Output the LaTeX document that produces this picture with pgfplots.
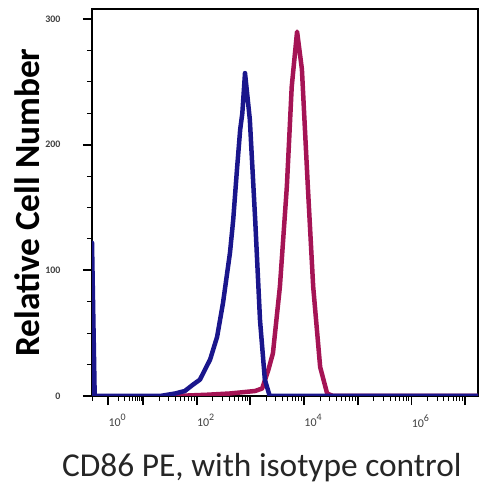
\documentclass[border=0pt]{standalone}
\usepackage{fontspec}
\setmainfont{Carlito}
\usepackage{pgfplots}
\pgfplotsset{compat=1.18}
\definecolor{cblue}{RGB}{26,22,140}
\definecolor{cred}{RGB}{165,20,85}
\newcommand{\dec}[1]{10\raisebox{0.5em}{\fontsize{10}{11}\selectfont #1}}
\begin{document}
\begin{tikzpicture}
\path (0bp,0bp) rectangle (481bp,493bp);
\begin{axis}[
  at={(92bp,97bp)}, anchor=south west,
  scale only axis, width=386bp, height=387bp,
  xmin=0.05, xmax=7.24, ymin=0, ymax=308,
  /pgf/number format/assume math mode=true,
  axis line style={black, line width=1.4bp},
  tick align=outside, xtick pos=bottom, ytick pos=left,
  xtick={0.35,1,2,3,4,5,6,7},
  xticklabels={\dec{0},,\dec{2},,\dec{4},,\dec{6},},
  minor xtick={0.05,0.546,0.660,0.741,0.804,0.856,0.899,0.937,0.970,
    1.301,1.477,1.602,1.699,1.778,1.845,1.903,1.954,
    2.301,2.477,2.602,2.699,2.778,2.845,2.903,2.954,
    3.301,3.477,3.602,3.699,3.778,3.845,3.903,3.954,
    4.301,4.477,4.602,4.699,4.778,4.845,4.903,4.954,
    5.301,5.477,5.602,5.699,5.778,5.845,5.903,5.954,
    6.301,6.477,6.602,6.699,6.778,6.845,6.903,6.954},
  ytick={0,100,200,300},
  minor ytick={25,50,75,125,150,175,225,250,275},
  major tick length=9bp, minor tick length=5bp,
  every major tick/.append style={black, line width=1.8bp},
  every minor tick/.append style={black, line width=1bp},
  xticklabel style={font=\fontsize{12}{13}\selectfont, text=black!75, xshift=9bp, yshift=-6bp},
  yticklabel style={font=\fontsize{10}{11}\selectfont\bfseries, text=black!75, xshift=-19bp},
  xlabel={CD86 PE, with isotype control},
  xlabel style={at={(axis description cs:0.440,-0.186)}, anchor=center, font=\fontsize{33.5}{38}\selectfont, text=black!85},
  ylabel={Relative Cell Number},
  ylabel style={at={(axis description cs:-0.167,0.5)}, anchor=center, font=\fontsize{35.5}{40}\selectfont\bfseries, text=black},
]
\addplot[cred, line width=4.5bp, line join=round] coordinates {
(1.60,0) (2.20,1) (2.62,2) (3.09,4) (3.22,6) (3.33,20) (3.42,34) (3.55,87)
(3.68,167) (3.77,246) (3.87,290) (3.96,260) (4.07,167) (4.17,87) (4.30,23)
(4.43,2) (4.54,0) (7.24,0)
};
\addplot[cblue, line width=4.5bp, line join=round] coordinates {
(0.05,0) (0.05,122) (0.10,0) (1.32,0) (1.60,2) (1.78,4) (1.93,9) (2.06,13)
(2.25,29) (2.38,47) (2.49,74) (2.62,114) (2.68,140) (2.75,180) (2.81,212)
(2.85,225) (2.90,257) (2.99,220) (3.09,140) (3.18,60) (3.27,13) (3.36,0) (7.24,0)
};
\end{axis}
\end{tikzpicture}
\end{document}
